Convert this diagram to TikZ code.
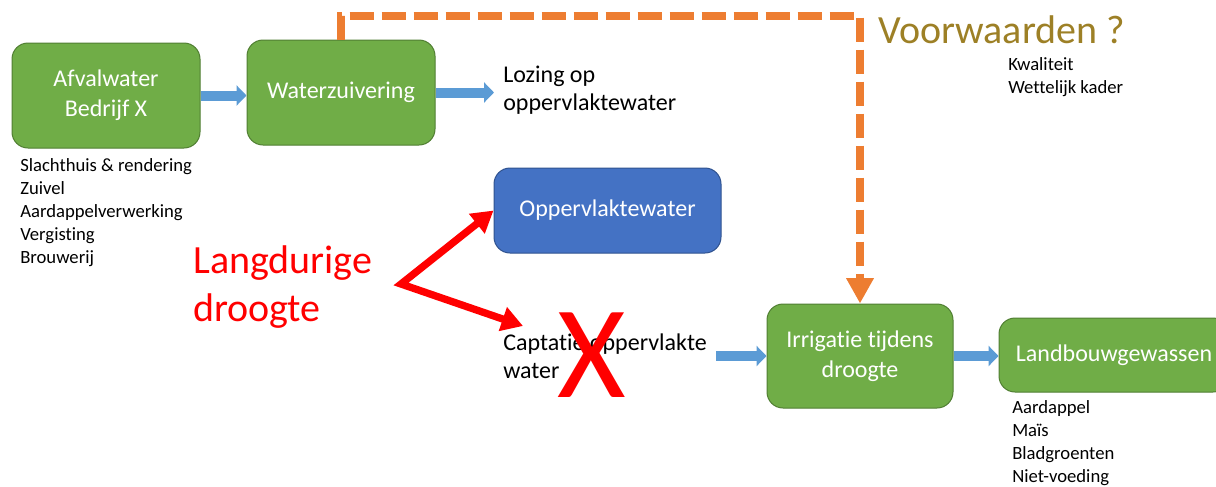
\documentclass[tikz,border=0pt]{standalone}
\usepackage{fontspec}
\setmainfont{Carlito}[Ligatures=NoCommon]
\usepackage{tikz}
\usetikzlibrary{arrows.meta}
\definecolor{boxgreen}{HTML}{70AD47}
\definecolor{boxgreenline}{HTML}{507E32}
\definecolor{boxblue}{HTML}{4472C4}
\definecolor{boxblueline}{HTML}{2F528F}
\definecolor{flowblue}{HTML}{5B9BD5}
\definecolor{dashorange}{HTML}{ED7D31}
\definecolor{titlegold}{RGB}{157,128,38}

\begin{document}
\begin{tikzpicture}[x=0.75pt,y=-0.75pt,
  green node/.style={rectangle,rounded corners=12pt,fill=boxgreen,draw=boxgreenline,line width=0.75pt,
    text=white,align=center,font=\fontsize{18}{22.5}\selectfont},
  blue node/.style={green node,fill=boxblue,draw=boxblueline},
  list node/.style={anchor=west,inner sep=0pt,align=left,font=\fontsize{14}{17.25}\selectfont},
  note node/.style={anchor=west,inner sep=0pt,align=left,font=\fontsize{18}{21}\selectfont},
  block arrow/.style={-{Triangle[length=7.5pt,width=15pt]},line width=7.5pt,flowblue},
  red arrow/.style={{Triangle[length=16pt,width=18pt]}-{Triangle[length=16pt,width=18pt]},
    line width=5.5pt,red,line join=miter},
  dash arrow/.style={-{Triangle[length=19pt,width=19.5pt]},line width=6pt,dashorange,
    dash pattern=on 18pt off 6pt}]

  \useasboundingbox (0,0) rectangle (1216,486);

  % top row
  \node[green node,minimum width=141pt,minimum height=78.75pt] (afval) at (106,95.5) {Afvalwater\\Bedrijf X};
  \node[green node,minimum width=141pt,minimum height=78.75pt] (zuiv) at (341,92.5) {Waterzuivering};
  \node[note node] (lozing) at (503,90.5) {Lozing op\\oppervlaktewater};
  \node[list node] (bedrijven) at (20,213) {Slachthuis \& rendering\\Zuivel\\Aardappelverwerking\\Vergisting\\Brouwerij};

  \node[anchor=west,inner sep=0pt,text=titlegold,font=\fontsize{30}{36}\selectfont] (voorw) at (878,30) {Voorwaarden ?};
  \node[list node] (kader) at (1008,77.5) {Kwaliteit\\Wettelijk kader};

  % drought
  \node[blue node,minimum width=170.25pt,minimum height=63.75pt] (opp) at (607.5,210.5) {Oppervlaktewater};
  \node[anchor=west,inner sep=0pt,align=left,text=red,font=\fontsize{30}{35.5}\selectfont] (droogte) at (193,287) {Langdurige\\droogte};
  \node[note node] (capt) at (503,356) {Captatie oppervlakte\\water};
  \node[red,inner sep=0pt,anchor=base,font=\fontsize{99}{99}\selectfont] (kruis) at (592,397) {X};

  % bottom row
  \node[green node,minimum width=139.5pt,minimum height=78pt] (irr) at (860,356) {Irrigatie tijdens\\droogte};
  \node[green node,minimum width=172.5pt,minimum height=55.5pt] (land) at (1114,355) {Landbouwgewassen};
  \node[list node] (gewassen) at (1012,443.5) {Aardappel\\Maïs\\Bladgroenten\\Niet-voeding};

  \coordinate (split) at (401,284);
  \coordinate (capt tip) at (523,326);
  \coordinate (bend) at (600,16);

  \draw[block arrow] (afval.east) -- (afval.east -| zuiv.west);
  \draw[block arrow,shorten >=6.75pt] (zuiv.east) -- (zuiv.east -| lozing.west);
  \draw[block arrow,shorten <=6.75pt] (capt.east) -- (capt.east -| irr.west);
  \draw[block arrow] (irr.east) -- (irr.east -| land.west);

  \draw[red arrow] (opp.west) -- (split) -- (capt tip);
  \draw[dash arrow] (zuiv.north) |- (bend) -| (irr.north);
\end{tikzpicture}
\end{document}
